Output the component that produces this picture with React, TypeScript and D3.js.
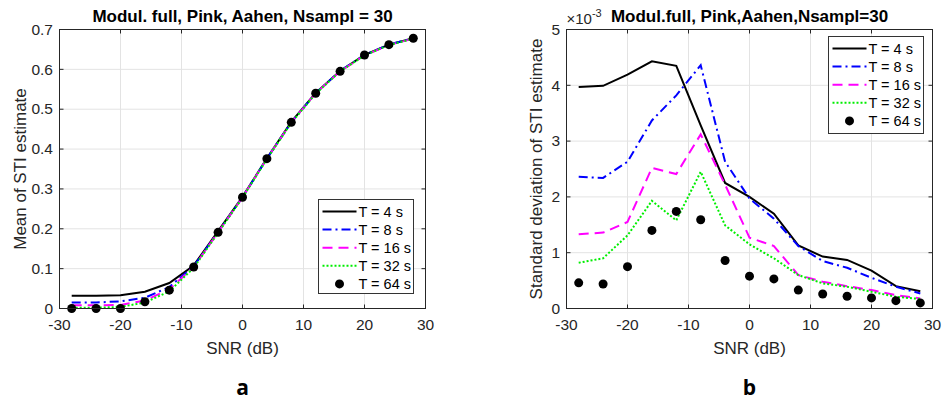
import React from "react";
import * as d3 from "d3";

const snr = [-28, -24, -20, -16, -12, -8, -4, 0, 4, 8, 12, 16, 20, 24, 28];

const meanT4 = [0.032, 0.032, 0.033, 0.042, 0.064, 0.108, 0.194, 0.28, 0.377, 0.468, 0.541, 0.596, 0.636, 0.662, 0.678];
const meanT8 = [0.015, 0.015, 0.018, 0.027, 0.054, 0.106, 0.192, 0.279, 0.376, 0.467, 0.54, 0.596, 0.636, 0.662, 0.678];
const meanT16 = [0.008, 0.008, 0.009, 0.02, 0.048, 0.104, 0.191, 0.279, 0.376, 0.467, 0.54, 0.595, 0.635, 0.661, 0.677];
const meanT32 = [0.002, 0.002, 0.004, 0.015, 0.043, 0.102, 0.19, 0.278, 0.375, 0.466, 0.539, 0.595, 0.635, 0.661, 0.677];
const meanT64 = [0.0, 0.0, 0.0, 0.017, 0.046, 0.104, 0.191, 0.279, 0.376, 0.467, 0.54, 0.595, 0.636, 0.662, 0.678];

// standard deviation, in units of 1e-3
const stdT4 = [3.97, 3.99, 4.19, 4.43, 4.35, 3.28, 2.25, 2.0, 1.7, 1.13, 0.93, 0.87, 0.68, 0.4, 0.31];
const stdT8 = [2.36, 2.34, 2.63, 3.37, 3.82, 4.36, 2.63, 1.97, 1.61, 1.12, 0.85, 0.73, 0.55, 0.39, 0.27];
const stdT16 = [1.33, 1.36, 1.55, 2.52, 2.41, 3.12, 2.22, 1.27, 1.12, 0.6, 0.48, 0.4, 0.33, 0.24, 0.18];
const stdT32 = [0.82, 0.9, 1.31, 1.93, 1.58, 2.45, 1.49, 1.15, 0.9, 0.6, 0.45, 0.39, 0.3, 0.21, 0.17];
const stdT64 = [0.46, 0.44, 0.75, 1.4, 1.74, 1.59, 0.86, 0.58, 0.53, 0.33, 0.26, 0.22, 0.19, 0.14, 0.1];

const seriesLabels = ["T = 4 s", "T = 8 s", "T = 16 s", "T = 32 s", "T = 64 s"];
const xTicks = [-30, -20, -10, 0, 10, 20, 30];
const yTicksMean = [0, 0.1, 0.2, 0.3, 0.4, 0.5, 0.6, 0.7];
const yTicksStd = [0, 1, 2, 3, 4, 5];

const styles = [
  { color: "#000000", dash: "none", kind: "line" },
  { color: "#0000ff", dash: "9,4,2,4", kind: "line" },
  { color: "#ff00ff", dash: "10,6", kind: "line" },
  { color: "#00ee00", dash: "2,2", kind: "line" },
  { color: "#000000", dash: "none", kind: "dot" },
];

const FONT = "'Liberation Sans', Arial, Helvetica, sans-serif";
const TXT = "#262626";

type PanelProps = {
  x0: number;
  x1: number;
  y0: number;
  y1: number;
  yMax: number;
  yTicks: number[];
  series: number[][];
  title: string;
  ylabel: string;
  ylabelX: number;
  legend: { x: number; y: number; w: number; h: number };
  exponent?: boolean;
  letter: string;
};

function Panel(p: PanelProps) {
  const xs = d3.scaleLinear().domain([-30, 30]).range([p.x0, p.x1]);
  const ys = d3.scaleLinear().domain([0, p.yMax]).range([p.y1, p.y0]);
  const line = d3
    .line<number>()
    .x((_, i) => xs(snr[i]))
    .y((d) => ys(d));
  const tl = 4;
  const cx = (p.x0 + p.x1) / 2;
  const cy = (p.y0 + p.y1) / 2;
  return (
    <g fontFamily={FONT}>
      {xTicks.slice(1, -1).map((t) => (
        <line key={"gx" + t} x1={xs(t)} x2={xs(t)} y1={p.y0} y2={p.y1} stroke="#e3e3e3" strokeWidth={1} />
      ))}
      {p.yTicks.slice(1, -1).map((t) => (
        <line key={"gy" + t} x1={p.x0} x2={p.x1} y1={ys(t)} y2={ys(t)} stroke="#e3e3e3" strokeWidth={1} />
      ))}
      {xTicks.map((t) => (
        <g key={"tx" + t}>
          <line x1={xs(t)} x2={xs(t)} y1={p.y1} y2={p.y1 - tl} stroke={TXT} />
          <line x1={xs(t)} x2={xs(t)} y1={p.y0} y2={p.y0 + tl} stroke={TXT} />
          <text x={xs(t)} y={p.y1 + 21} textAnchor="middle" fontSize={15.5} fill={TXT}>
            {t}
          </text>
        </g>
      ))}
      {p.yTicks.map((t) => (
        <g key={"ty" + t}>
          <line x1={p.x0} x2={p.x0 + tl} y1={ys(t)} y2={ys(t)} stroke={TXT} />
          <line x1={p.x1} x2={p.x1 - tl} y1={ys(t)} y2={ys(t)} stroke={TXT} />
          <text x={p.x0 - 6.5} y={ys(t) + 5.2} textAnchor="end" fontSize={15.5} fill={TXT}>
            {t}
          </text>
        </g>
      ))}
      {p.series.map((s, k) =>
        styles[k].kind === "line" ? (
          <path
            key={"s" + k}
            d={line(s) || ""}
            fill="none"
            stroke={styles[k].color}
            strokeWidth={2}
            strokeDasharray={styles[k].dash}
          />
        ) : (
          <g key={"s" + k}>
            {s.map((v, i) => (
              <circle key={i} cx={xs(snr[i])} cy={ys(v)} r={4.5} fill="#000" />
            ))}
          </g>
        )
      )}
      <rect x={p.x0} y={p.y0} width={p.x1 - p.x0} height={p.y1 - p.y0} fill="none" stroke={TXT} strokeWidth={1} />
      <text x={cx} y={p.y1 + 45} textAnchor="middle" fontSize={17} fill={TXT}>
        SNR (dB)
      </text>
      <text
        transform={`translate(${p.ylabelX},${cy}) rotate(-90)`}
        textAnchor="middle"
        fontSize={17}
        fill={TXT}
      >
        {p.ylabel}
      </text>
      <text x={cx} y={21.5} textAnchor="middle" fontSize={17} fontWeight="bold" fill="#000">
        {p.title}
      </text>
      {p.exponent && (
        <text x={p.x0} y={24} fontSize={15} fill={TXT}>
          ×10
          <tspan dy={-7} fontSize={11}>
            -3
          </tspan>
        </text>
      )}
      <rect x={p.legend.x} y={p.legend.y} width={p.legend.w} height={p.legend.h} fill="#fff" stroke="#333" strokeWidth={1} />
      {seriesLabels.map((lab, k) => {
        const ly = p.legend.y + 12 + k * 18.1;
        const lx0 = p.legend.x + 4;
        const lx1 = p.legend.x + 38;
        return (
          <g key={"lg" + k}>
            {styles[k].kind === "line" ? (
              <line x1={lx0} x2={lx1} y1={ly} y2={ly} stroke={styles[k].color} strokeWidth={2} strokeDasharray={styles[k].dash} />
            ) : (
              <circle cx={(lx0 + lx1) / 2} cy={ly} r={4.5} fill="#000" />
            )}
            <text x={lx1 + 2} y={ly + 5} fontSize={14.5} fill="#000">
              {lab}
            </text>
          </g>
        );
      })}
      <text x={cx} y={395} textAnchor="middle" fontSize={21} fontWeight="bold" fontFamily="'Open Sans', sans-serif" fill="#000">
        {p.letter}
      </text>
    </g>
  );
}

export default function App() {
  return (
    <svg width={942} height={402} style={{ position: "absolute", left: 0, top: 0, background: "#fff" }}>
      <rect width={942} height={402} fill="#fff" />
      <Panel
        x0={59.5}
        x1={425.5}
        y0={29.5}
        y1={308.5}
        yMax={0.7}
        yTicks={yTicksMean}
        series={[meanT4, meanT8, meanT16, meanT32, meanT64]}
        title="Modul. full, Pink, Aahen, Nsampl = 30"
        ylabel="Mean of STI estimate"
        ylabelX={25.5}
        legend={{ x: 318.5, y: 199.5, w: 95, h: 94 }}
        letter="a"
      />
      <Panel
        x0={566.5}
        x1={932.5}
        y0={29.5}
        y1={308.5}
        yMax={5}
        yTicks={yTicksStd}
        series={[stdT4, stdT8, stdT16, stdT32, stdT64]}
        title="Modul.full, Pink,Aahen,Nsampl=30"
        ylabel="Standard deviation of STI estimate"
        ylabelX={541.5}
        legend={{ x: 828.5, y: 36.5, w: 95, h: 97 }}
        exponent
        letter="b"
      />
    </svg>
  );
}
